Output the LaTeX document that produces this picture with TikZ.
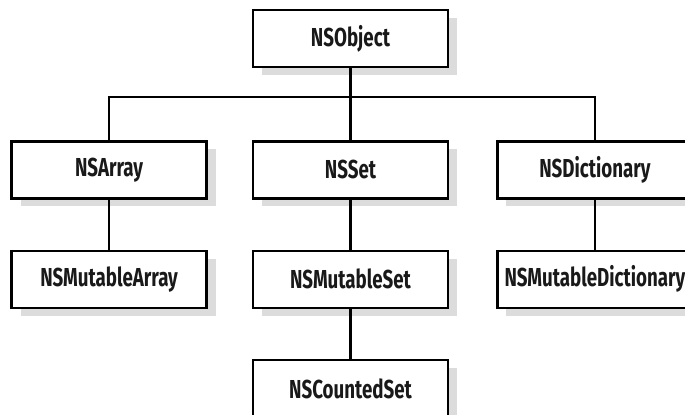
\documentclass[tikz,border=0pt]{standalone}
\usepackage{fontspec}
\setmainfont{Fira Sans}[FakeStretch=0.72]
\usetikzlibrary{positioning,shadows,calc}

\begin{document}
\begin{tikzpicture}[
	node distance=36pt and 22pt,
	cls/.style={rectangle, draw, line width=1.2pt, fill=white,
		minimum width=97.5pt, minimum height=28.5pt, text=black!90,
		font=\bfseries\fontsize{13}{15}\selectfont,
		drop shadow={shadow xshift=4.5pt, shadow yshift=-4pt, fill=black!25, opacity=0.55}},
	line/.style={draw, line width=1.2pt},
	]
	\useasboundingbox (0,0) rectangle (342.5pt,-207pt);
	\node[cls] (obj) at (175.25pt,-19.25pt) {NSObject};
	\node[cls,below=of obj] (set) {NSSet};
	\node[cls,left=of set] (arr) {NSArray};
	\node[cls,right=23.5pt of set] (dict) {NSDictionary};
	\node[cls,below=25pt of arr] (marr) {NSMutableArray};
	\node[cls,below=25pt of set] (mset) {NSMutableSet};
	\node[cls,below=25pt of dict] (mdict) {NSMutableDictionary};
	\node[cls,below=25pt of mset] (cset) {NSCountedSet};
	\coordinate (bus) at ($(obj.south)!0.4!(set.north)$);

	%Linien
	\path[line] (obj.south) to (set.north);
	\path[line] (arr.north) |- (bus) -| (dict.north);
	\path[line] (arr.south) to (marr.north);
	\path[line] (set.south) to (mset.north);
	\path[line] (dict.south) to (mdict.north);
	\path[line] (mset.south) to (cset.north);
\end{tikzpicture}
\end{document}
